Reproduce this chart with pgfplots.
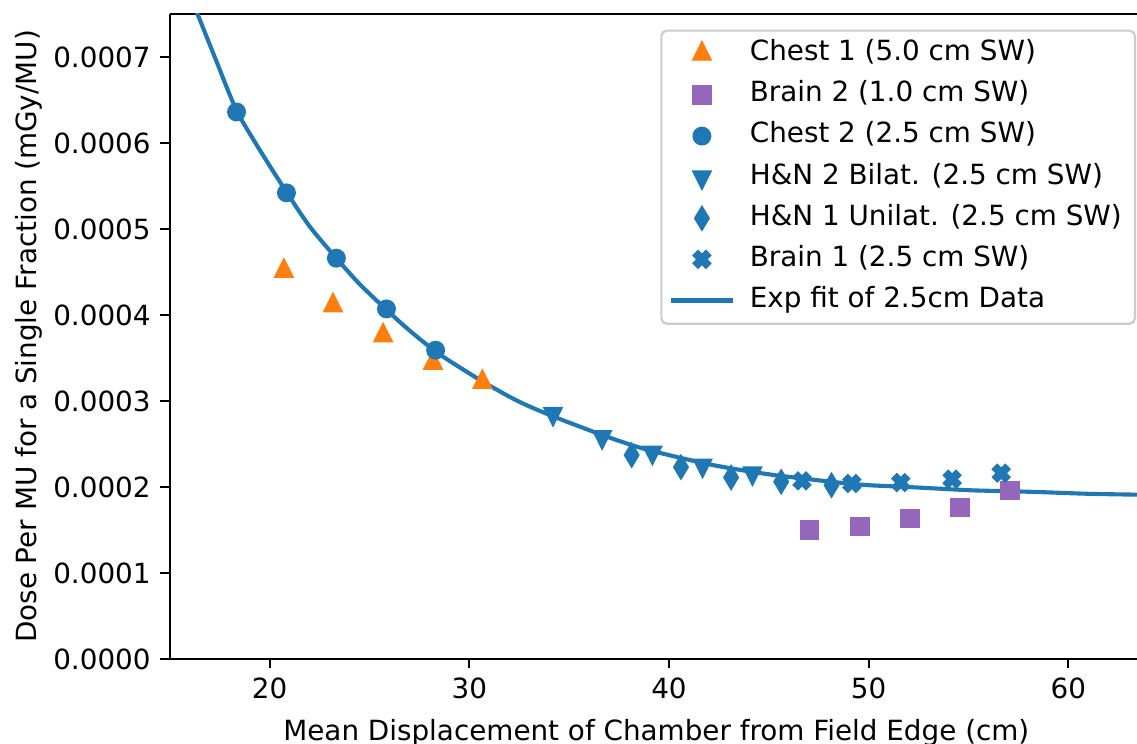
\documentclass[border=0pt]{standalone}
\usepackage{fontspec}
\setmainfont{DejaVu Sans}
\usepackage{pgfplots}
\pgfplotsset{compat=1.18}
\usetikzlibrary{calc}

\definecolor{c0}{HTML}{1F77B4}
\definecolor{c1}{HTML}{FF7F0E}
\definecolor{c4}{HTML}{9467BD}

% filled "X" marker (a plus turned by 45 degrees)
\pgfdeclareplotmark{Xfill}{%
  \pgftransformrotate{45}%
  \pgfpathmoveto{\pgfqpoint{-0.38\pgfplotmarksize}{\pgfplotmarksize}}%
  \pgfpathlineto{\pgfqpoint{0.38\pgfplotmarksize}{\pgfplotmarksize}}%
  \pgfpathlineto{\pgfqpoint{0.38\pgfplotmarksize}{0.38\pgfplotmarksize}}%
  \pgfpathlineto{\pgfqpoint{\pgfplotmarksize}{0.38\pgfplotmarksize}}%
  \pgfpathlineto{\pgfqpoint{\pgfplotmarksize}{-0.38\pgfplotmarksize}}%
  \pgfpathlineto{\pgfqpoint{0.38\pgfplotmarksize}{-0.38\pgfplotmarksize}}%
  \pgfpathlineto{\pgfqpoint{0.38\pgfplotmarksize}{-\pgfplotmarksize}}%
  \pgfpathlineto{\pgfqpoint{-0.38\pgfplotmarksize}{-\pgfplotmarksize}}%
  \pgfpathlineto{\pgfqpoint{-0.38\pgfplotmarksize}{-0.38\pgfplotmarksize}}%
  \pgfpathlineto{\pgfqpoint{-\pgfplotmarksize}{-0.38\pgfplotmarksize}}%
  \pgfpathlineto{\pgfqpoint{-\pgfplotmarksize}{0.38\pgfplotmarksize}}%
  \pgfpathlineto{\pgfqpoint{-0.38\pgfplotmarksize}{0.38\pgfplotmarksize}}%
  \pgfpathclose
  \pgfusepathqfillstroke
}

\begin{document}
\begin{tikzpicture}
\begin{axis}[
    scale only axis,
    width=353pt, height=235.4pt,
    xmin=15, xmax=63.44,
    ymin=0, ymax=0.00075,
    axis x line=box, axis y line=left,
    axis line style={-, line width=0.8pt},
    xtick pos=bottom, ytick pos=left,
    tick align=outside,
    major tick length=3.5pt,
    every tick/.style={black, line width=0.8pt},
    xtick={20,30,40,50,60},
    ytick={0,0.0001,0.0002,0.0003,0.0004,0.0005,0.0006,0.0007},
    scaled y ticks=false,
    /pgf/number format/assume math mode=true,
    yticklabel style={/pgf/number format/fixed,
        /pgf/number format/fixed zerofill,
        /pgf/number format/precision=4},
    tick label style={font=\fontsize{10.15}{12}\selectfont},
    label style={font=\fontsize{10.15}{12}\selectfont},
    xlabel={Mean Displacement of Chamber from Field Edge (cm)},
    ylabel={Dose Per MU for a Single Fraction (mGy/MU)},
    xlabel style={at={(axis description cs:0.503,-0.115)}, anchor=center},
    ylabel style={at={(axis description cs:-0.1457,0.5)}, anchor=center},
    legend cell align=left,
    legend image code/.code={\draw[mark repeat=2,mark phase=2]
        plot coordinates {(0pt,0pt) (11.25pt,0pt) (22.5pt,0pt)};},
    legend style={at={(0.9990,0.9759)}, anchor=north east,
        draw=black!20, line width=0.8pt, rounded corners=2pt,
        font=\fontsize{10.15}{12}\selectfont,
        inner xsep=2.8pt, inner ysep=1.5pt,
        row sep=1pt,
        nodes={inner sep=2pt, text height=7.5pt, text depth=2.5pt},
        /tikz/every odd column/.append style={column sep=3.5pt}},
]
% Chest 1 (5.0 cm SW)
\addplot[only marks, mark=triangle*, mark size=3.9pt,
    mark options={yscale=1.15, draw=c1, fill=c1, line width=0.5pt}] coordinates {
    (20.71,0.000451) (23.17,0.000411) (25.68,0.000376) (28.18,0.000344) (30.65,0.000322)
};
\addlegendentry{Chest 1 (5.0 cm SW)}

% Brain 2 (1.0 cm SW)
\addplot[only marks, mark=square*, mark size=3.3pt,
    mark options={draw=c4, fill=c4, line width=0.5pt}] coordinates {
    (47.05,0.000150) (49.57,0.000154) (52.08,0.000163) (54.58,0.000176) (57.09,0.000196)
};
\addlegendentry{Brain 2 (1.0 cm SW)}

% Chest 2 (2.5 cm SW)
\addplot[only marks, mark=*, mark size=3.2pt,
    mark options={draw=c0, fill=c0, line width=0.5pt}] coordinates {
    (18.34,0.000636) (20.84,0.000542) (23.34,0.000466) (25.85,0.000407) (28.31,0.000359)
};
\addlegendentry{Chest 2 (2.5 cm SW)}

% H&N 2 Bilat. (2.5 cm SW)
\addplot[only marks, mark=triangle*, mark size=3.9pt,
    mark options={rotate=180, yscale=1.15, draw=c0, fill=c0, line width=0.5pt}] coordinates {
    (34.19,0.000285) (36.65,0.000258) (39.17,0.000240) (41.68,0.000225) (44.18,0.000216)
};
\addlegendentry{H\&N 2 Bilat. (2.5 cm SW)}

% H&N 1 Unilat. (2.5 cm SW)
\addplot[only marks, mark=diamond*, mark size=4.4pt,
    mark options={xscale=0.8, draw=c0, fill=c0, line width=0.5pt}] coordinates {
    (38.13,0.000237) (40.60,0.000223) (43.11,0.000211) (45.62,0.000206) (48.14,0.000202)
};
\addlegendentry{H\&N 1 Unilat. (2.5 cm SW)}

% Brain 1 (2.5 cm SW)
\addplot[only marks, mark=Xfill, mark size=3.3pt,
    mark options={draw=c0, fill=c0, line width=0.5pt}] coordinates {
    (46.66,0.000207) (49.16,0.000204) (51.61,0.000205) (54.18,0.000209) (56.64,0.000216)
};
\addlegendentry{Brain 1 (2.5 cm SW)}

% exponential fit, read off the curve
\addplot[c0, line width=1.5pt, mark=none, smooth] coordinates {
    (16.2,0.000761) (16.42,0.000748) (17.35,0.000694) (18.34,0.000638)
    (19.5,0.000592) (20.84,0.000543) (22.0,0.000503) (23.34,0.000466)
    (24.5,0.000436) (25.85,0.000406) (27.0,0.000382) (28.4,0.000356)
    (30.0,0.000332) (31.0,0.000318) (32.5,0.000299) (34.2,0.000282)
    (36.7,0.000260) (38.5,0.000246) (40.0,0.000237) (41.86,0.000227)
    (43.5,0.000220) (45.2,0.000214) (47.0,0.000209) (48.53,0.000205)
    (50.0,0.000202) (51.87,0.000200) (53.5,0.000198) (55.2,0.000196)
    (57.0,0.000195) (58.54,0.000194) (61.0,0.000192) (63.44,0.000191)
};
\addlegendentry{Exp fit of 2.5cm Data}
\end{axis}
\pgfresetboundingbox
\path[use as bounding box] ($(current axis.south west)+(-62pt,-31pt)$)
    rectangle ($(current axis.north east)+(0pt,5.1pt)$);
\end{tikzpicture}
\end{document}
